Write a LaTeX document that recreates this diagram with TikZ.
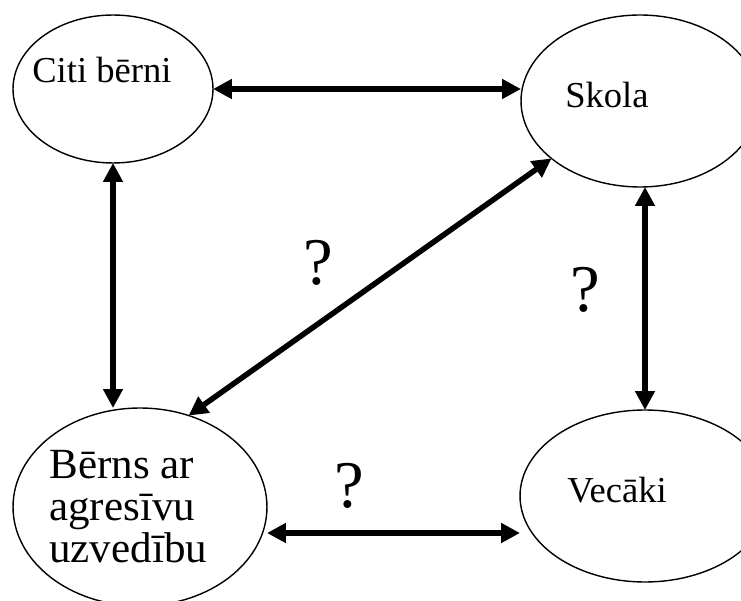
\documentclass[tikz,border=0pt]{standalone}
\usepackage{fontspec}
\setmainfont{Liberation Serif}
\usetikzlibrary{shapes.geometric,arrows.meta}
\begin{document}
\begin{tikzpicture}
[x=0.02cm,y=-0.02cm,%
  ellipseDecorate/.style={shape=ellipse,draw,line width=0.8pt,inner sep=0pt,outer sep=0pt},%
  textDecorate/.style={font=\fontsize{#1}{23.8}\selectfont,align=left,inner sep=0pt,anchor=base west},%
  markDecorate/.style={font=\fontsize{38}{40}\selectfont,inner sep=0pt,anchor=base},%
  lineDecorate/.style={{Triangle[length=0.38cm,width=0.38cm]}-{Triangle[length=0.38cm,width=0.38cm]},line width=0.11cm}]
\useasboundingbox (0,0) rectangle (741,601);
%% nodes or vertices
\foreach \nodename/\x/\y/\w/\h in {
  citi/113/89/4.0/2.96, skola/640/101/4.76/3.44, berns/140/507/5.08/3.96, vecaki/645/496/5.0/3.44}
{
  \node (\nodename) at (\x,\y) [ellipseDecorate,minimum width=\w cm,minimum height=\h cm] {};
}
%% texts in the ellipses (base = last line)
\foreach \nodename/\x/\y/\size/\text in {
  citi/32/83/20.8/Citi bērni, skola/565/108/20.8/Skola, vecaki/567/502/20.8/Vecāki,
  berns/49/562/24.5/{Bērns ar\\agresīvu\\uzvedību}}
{
  \node (\nodename-text) at (\x,\y) [textDecorate=\size] {\text};
}
%% question marks
\foreach \nodename/\x/\y in {q1/318/285, q2/585/312, q3/349/507}
{
  \node (\nodename) at (\x,\y) [markDecorate] {?};
}
%% edges or lines
\coordinate (bernsright) at ([yshift=-0.52cm]berns.east);
\path
\foreach \startnode/\endnode in {
  citi.east/citi.east -| skola.west,
  citi.south/citi.south |- berns.north,
  berns.62/skola.213,
  vecaki.north |- skola.south/vecaki.north,
  bernsright/bernsright -| vecaki.west}
{
  (\startnode) edge[lineDecorate] (\endnode)
};
\end{tikzpicture}
\end{document}
